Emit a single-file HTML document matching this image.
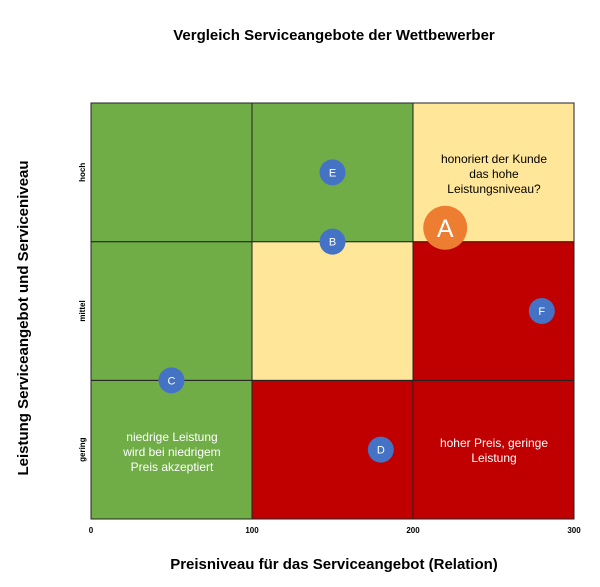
<!DOCTYPE html>
<html><head><meta charset="utf-8"><style>
body{margin:0;background:#fff;font-family:"Liberation Sans",sans-serif}
</style></head><body>
<svg width="600" height="582" xmlns="http://www.w3.org/2000/svg" id="c">
<text x="334" y="40" text-anchor="middle" font-size="15" font-weight="bold">Vergleich Serviceangebote der Wettbewerber</text>
<text x="334" y="569" text-anchor="middle" font-size="15" font-weight="bold">Preisniveau für das Serviceangebot (Relation)</text>
<text transform="translate(28,318) rotate(-90)" text-anchor="middle" font-size="15" font-weight="bold">Leistung Serviceangebot und Serviceniveau</text>
<g id="cells"></g><g id="grid"></g><g id="ticks"></g><g id="notes"></g><g id="pts"></g>
</svg>
<script>
const cellColors=[["#70ad47","#c00000","#c00000"],["#70ad47","#ffe699","#c00000"],["#70ad47","#70ad47","#ffe699"]];
const xTicks=[0,100,200,300];
const yBands=["gering","mittel","hoch"];
const labels=["A","B","C","D","E","F"];
const xVals=[220,150,50,180,150,280];
const yVals=[210,200,100,50,250,150];
const NS="http://www.w3.org/2000/svg";
const X0=91,X1=574,Y0=519,Y1=103;
const sx=v=>X0+(v/300)*(X1-X0), sy=v=>Y0-(v/300)*(Y0-Y1);
function mk(t,a,p){const e=document.createElementNS(NS,t);for(const k in a)e.setAttribute(k,a[k]);p.appendChild(e);return e;}
const cells=document.getElementById('cells');
for(let r=0;r<3;r++)for(let c=0;c<3;c++){
 const e=mk('rect',{x:sx(c*100),y:sy((r+1)*100),width:sx(100)-sx(0),height:sy(0)-sy(100),fill:cellColors[r][c],stroke:"#222","stroke-width":1},cells);
 
 
}
const ticks=document.getElementById('ticks');
xTicks.forEach(v=>{const t=mk('text',{x:sx(v),y:533,"text-anchor":"middle","font-size":8,"font-weight":"bold"},ticks);t.textContent=v;
 
 });
yBands.forEach((b,i)=>{const y=sy(i*100+50);const t=mk('text',{transform:`translate(85,${y}) rotate(-90)`,"text-anchor":"middle","font-size":8,"font-weight":"bold"},ticks);t.textContent=b;
 
 });
const notes=document.getElementById('notes');
function note(lines,cx,cy,col){lines.forEach((l,i)=>{const t=mk('text',{x:cx,y:cy+i*15,"text-anchor":"middle","font-size":12,fill:col},notes);t.textContent=l;
 
 });}
note(["honoriert der Kunde","das hohe","Leistungsniveau?"],494,163,"#000");
note(["niedrige Leistung","wird bei niedrigem","Preis akzeptiert"],172,441,"#fff");
note(["hoher Preis, geringe","Leistung"],494,447,"#fff");
const pts=document.getElementById('pts');
labels.forEach((l,i)=>{const big=l==="A";
 const g=mk('g',{},pts);
 
 
 mk('circle',{cx:sx(xVals[i]),cy:sy(yVals[i]),r:big?22:13,fill:big?"#ed7d31":"#4472c4"},g);
 const t=mk('text',{x:sx(xVals[i]),y:sy(yVals[i])+(big?9:4),"text-anchor":"middle","font-size":big?25:11,fill:"#fff"},g);t.textContent=l;});
</script>
</body></html>
